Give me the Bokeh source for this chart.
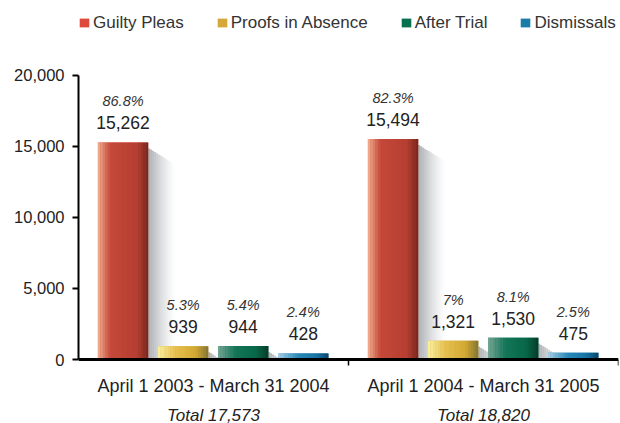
from bokeh.plotting import figure
from bokeh.models import (ColumnDataSource, Range1d, FixedTicker, LabelSet, Legend,
                          LegendItem, NumeralTickFormatter)
from bokeh.core.properties import value
from bokeh.embed import file_html
from bokeh.resources import INLINE

# ---------------- data ----------------
categories = ["Guilty Pleas", "Proofs in Absence", "After Trial", "Dismissals"]
periods = ["April 1 2003 - March 31 2004", "April 1 2004 - March 31 2005"]
totals = [17573, 18820]
values_2003_04 = [15262, 939, 944, 428]
values_2004_05 = [15494, 1321, 1530, 475]
share_2003_04 = ["86.8%", "5.3%", "5.4%", "2.4%"]
share_2004_05 = ["82.3%", "7%", "8.1%", "2.5%"]
y_ticks = [0, 5000, 10000, 15000, 20000]

# ---------------- styles ----------------
legend_colors = ["#dd4a3c", "#d4a93a", "#08704f", "#1a7aa8"]
gradients = [
    [(0.0, (242, 178, 146)), (0.25, (196, 72, 58)), (0.78, (180, 62, 50)), (1.0, (118, 38, 30))],
    [(0.0, (250, 240, 160)), (0.35, (230, 192, 80)), (0.75, (210, 168, 50)), (1.0, (130, 116, 52))],
    [(0.0, (120, 166, 150)), (0.35, (20, 118, 88)), (0.75, (8, 104, 72)), (1.0, (6, 60, 42))],
    [(0.0, (170, 208, 232)), (0.4, (40, 136, 184)), (0.75, (24, 118, 166)), (1.0, (10, 70, 108))],
]
FONT = "Liberation Sans"

W, H = 620, 423
FRAME_LEFT = 78
ZERO_Y = 359           # pixel row of the value 0
FIRST = 0.165
BAR_STEP = 0.2225
BAR_W = 0.186
N_STRIPS = 20
PX = 284.5 / 20000     # pixels per unit on y

def interp(stops, t):
    for (t0, c0), (t1, c1) in zip(stops[:-1], stops[1:]):
        if t0 <= t <= t1:
            f = (t - t0) / (t1 - t0)
            c = [int(round(a + (b - a) * f)) for a, b in zip(c0, c1)]
            return "#%02x%02x%02x" % tuple(c)
    return "#%02x%02x%02x" % stops[-1][1]

all_values = [values_2003_04, values_2004_05]
all_shares = [share_2003_04, share_2004_05]

def bar_x(g, i):
    return g + FIRST + i * BAR_STEP

p = figure(width=W, height=H, output_backend="svg", toolbar_location=None,
           x_range=Range1d(0, 2), y_range=Range1d(-(H - ZERO_Y) / PX, ZERO_Y / PX),
           min_border_left=FRAME_LEFT, min_border_right=2, min_border_top=0, min_border_bottom=0)
p.outline_line_color = None
p.grid.visible = False
p.background_fill_color = "white"
p.border_fill_color = "white"

# soft shadows to the right of each bar
sh_l, sh_r, sh_t, sh_a = [], [], [], []
for g in range(2):
    for i in range(4):
        x = bar_x(g, i)
        v = all_values[g][i]
        n = 14
        for k in range(n):
            sh_l.append(x + BAR_W / 2 + k * 0.0072)
            sh_r.append(x + BAR_W / 2 + (k + 1) * 0.0072)
            sh_t.append(max(v - (6 + 1.2 * k) / PX, 0))
            sh_a.append(0.55 * (1 - k / n) ** 1.4)
p.quad(left=sh_l, right=sh_r, bottom=0, top=sh_t, fill_color="#6c727a",
       fill_alpha=sh_a, line_color=None)

# base bars (legend colours) + gradient strips
legend_items = []
for i, cat in enumerate(categories):
    xs = [bar_x(g, i) for g in range(2)]
    tops = [all_values[g][i] for g in range(2)]
    r = p.vbar(x=xs, width=BAR_W, top=tops, bottom=0,
               fill_color=legend_colors[i], line_color=None)
    legend_items.append(LegendItem(label=cat, renderers=[r]))
    sx, sw, st, sc = [], [], [], []
    for g in range(2):
        for j in range(N_STRIPS):
            t = (j + 0.5) / N_STRIPS
            sx.append(xs[g] - BAR_W / 2 + t * BAR_W)
            sw.append(BAR_W / N_STRIPS * 1.1)
            st.append(tops[g])
            sc.append(interp(gradients[i], t))
    p.vbar(x=sx, width=sw, top=st, bottom=0, fill_color=sc, line_color=None)

# value labels
lx, ly, lv, lp = [], [], [], []
for g in range(2):
    for i in range(4):
        lx.append(bar_x(g, i))
        ly.append(all_values[g][i])
        lv.append("{:,}".format(all_values[g][i]))
        lp.append(all_shares[g][i])
lab_src = ColumnDataSource(dict(x=lx, y=ly, v=lv, p=lp))
p.add_layout(LabelSet(x="x", y="y", text="v", source=lab_src, y_offset=13,
                      text_align="center", text_baseline="alphabetic",
                      text_font=value(FONT), text_font_size="17.5px", text_color="#222222"))
p.add_layout(LabelSet(x="x", y="y", text="p", source=lab_src, y_offset=36,
                      text_align="center", text_baseline="alphabetic",
                      text_font=value(FONT), text_font_style="italic",
                      text_font_size="14.5px", text_color="#333333"))

# period labels and totals under the axis
group_centres = [g + 0.5 for g in range(2)]
grp_src = ColumnDataSource(dict(x=group_centres, y=[0, 0], name=periods,
                                tot=["Total {:,}".format(t) for t in totals]))
p.add_layout(LabelSet(x="x", y="y", text="name", source=grp_src, y_offset=-32,
                      text_align="center", text_baseline="alphabetic",
                      text_font=value(FONT), text_font_size="18px", text_color="#222222"))
p.add_layout(LabelSet(x="x", y="y", text="tot", source=grp_src, y_offset=-61,
                      text_align="center", text_baseline="alphabetic",
                      text_font=value(FONT), text_font_style="italic",
                      text_font_size="17px", text_color="#222222"))

# y axis
ya = p.yaxis[0]
ya.ticker = FixedTicker(ticks=y_ticks)
ya.formatter = NumeralTickFormatter(format="0,0")
ya.bounds = (0, 20000)
ya.major_tick_out = 6
ya.major_tick_in = 0
ya.minor_tick_line_color = None
ya.axis_line_width = 2
ya.major_tick_line_width = 2
ya.major_label_standoff = 8
ya.major_label_text_font = FONT
ya.major_label_text_font_size = "16.5px"
ya.major_label_text_color = "#222222"

# x axis: line at zero with boundary ticks between the periods
group_edges = [g + 1.0 for g in range(2)]
xa = p.xaxis[0]
xa.fixed_location = 0
xa.ticker = FixedTicker(ticks=[], minor_ticks=group_edges)
xa.major_tick_out = 0
xa.major_tick_in = 0
xa.major_label_standoff = 0
xa.minor_tick_out = 6
xa.minor_tick_in = 0
xa.minor_tick_line_width = 1.5
xa.minor_tick_line_color = "black"
xa.axis_line_width = 3

legend = Legend(items=legend_items, orientation="horizontal", location=(0, H - 32.5),
                glyph_width=12, glyph_height=11, label_standoff=3, spacing=32,
                padding=0, margin=0, border_line_color=None, background_fill_alpha=0,
                label_text_font=FONT, label_text_font_size="17px",
                label_text_color="#333333")
p.add_layout(legend)

open("out.html", "w").write(file_html(p, INLINE))
